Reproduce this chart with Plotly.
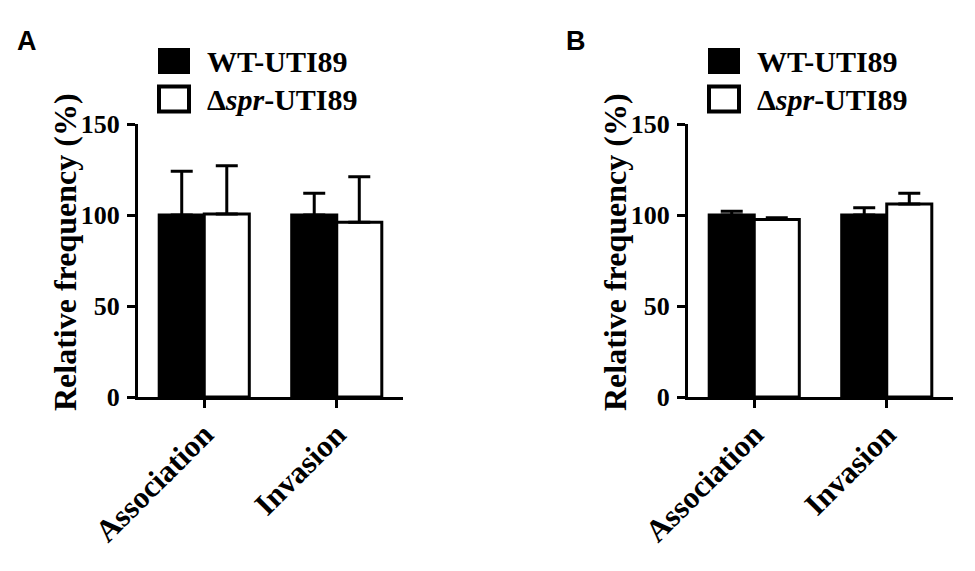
import plotly.graph_objects as go

W, H = 975, 571
OFF = 8  # page body margin of the browser shifts the figure by this much

categories = ["Association", "Invasion"]

# panel A
a_wt = [100, 100]
a_wt_err = [24, 12]
a_spr = [100.5, 96]
a_spr_err = [26.5, 25]

# panel B
b_wt = [100, 100]
b_wt_err = [2, 4]
b_spr = [97.5, 106]
b_spr_err = [1, 6]

y_ticks = [0, 50, 100, 150]
wt_name = "WT-UTI89"
spr_name = "\u0394<i>spr</i>-UTI89"

SERIF = "Liberation Serif"
SANS = "Liberation Sans"


def px(x):
    return (x - OFF) / W


def py(y):
    return 1 - (y - OFF) / H


def bar(x, y, err, fill, xa, ya, name):
    return go.Bar(
        x=x, y=y, name=name, xaxis=xa, yaxis=ya,
        marker=dict(color=fill, line=dict(color="black", width=3)),
        error_y=dict(type="data", symmetric=False, array=err,
                     arrayminus=[0] * len(err), color="black",
                     thickness=3, width=11),
        showlegend=False,
    )


fig = go.Figure()
fig.add_trace(bar(categories, a_wt, a_wt_err, "black", "x", "y", wt_name))
fig.add_trace(bar(categories, a_spr, a_spr_err, "white", "x", "y", spr_name))
fig.add_trace(bar(categories, b_wt, b_wt_err, "black", "x2", "y2", wt_name))
fig.add_trace(bar(categories, b_spr, b_spr_err, "white", "x2", "y2", spr_name))

xaxis_common = dict(
    type="category", range=[-0.5, 1.5], showline=True, linewidth=3,
    linecolor="black", ticks="outside", ticklen=8, tickwidth=3,
    tickcolor="black", tickangle=-45, showgrid=False, zeroline=False,
    automargin=False, ticklabelstandoff=-4,
    tickfont=dict(family=SERIF, size=31, color="black", weight="bold"),
)
yaxis_common = dict(
    range=[0, 150], tickvals=y_ticks, showline=True, linewidth=3,
    linecolor="black", ticks="outside", ticklen=8, tickwidth=3,
    tickcolor="black", showgrid=False, zeroline=False, ticklabelstandoff=2,
    automargin=False,
    tickfont=dict(family=SERIF, size=26, color="black", weight="bold"),
    domain=[py(397), py(124)],
)

annotations = []
shapes = []
panels = [("A", 138, 15), ("B", 688, 564)]
for i, (label, x0, lab_x) in enumerate(panels):
    sfx = "" if i == 0 else "2"
    fig.layout["xaxis" + sfx] = dict(xaxis_common, domain=[px(x0), px(x0 + 265)],
                                     anchor="y" + sfx)
    fig.layout["yaxis" + sfx] = dict(yaxis_common, anchor="x" + sfx)

    annotations.append(dict(
        text="<b>%s</b>" % label, x=px(lab_x), y=py(41), xref="paper", yref="paper",
        xanchor="left", yanchor="middle", showarrow=False,
        font=dict(family=SANS, size=27, color="black")))
    annotations.append(dict(
        text="<b>Relative frequency (%)</b>", x=px(x0 - 73), y=py(252),
        xref="paper", yref="paper", textangle=-90, xanchor="center",
        yanchor="middle", showarrow=False,
        font=dict(family=SERIF, size=32, color="black")))

    lx = x0 + 20
    shapes.append(dict(type="rect", xref="paper", yref="paper",
                       x0=px(lx), x1=px(lx + 32), y0=py(74), y1=py(48),
                       fillcolor="black", line=dict(width=0)))
    shapes.append(dict(type="rect", xref="paper", yref="paper",
                       x0=px(lx + 1), x1=px(lx + 31), y0=py(111.5), y1=py(86.5),
                       fillcolor="white", line=dict(color="black", width=4)))
    for txt, ty in [(wt_name, 62), (spr_name, 99)]:
        annotations.append(dict(
            text="<b>%s</b>" % txt, x=px(lx + 47), y=py(ty), xref="paper",
            yref="paper", xanchor="left", yanchor="middle", showarrow=False,
            font=dict(family=SERIF, size=30, color="black")))

fig.update_layout(
    width=W, height=H,
    margin=dict(l=0, r=0, t=0, b=0, autoexpand=False),
    barmode="group", bargap=0.32, bargroupgap=0,
    plot_bgcolor="white", paper_bgcolor="white",
    annotations=annotations, shapes=shapes,
)

fig.write_html("out.html")
